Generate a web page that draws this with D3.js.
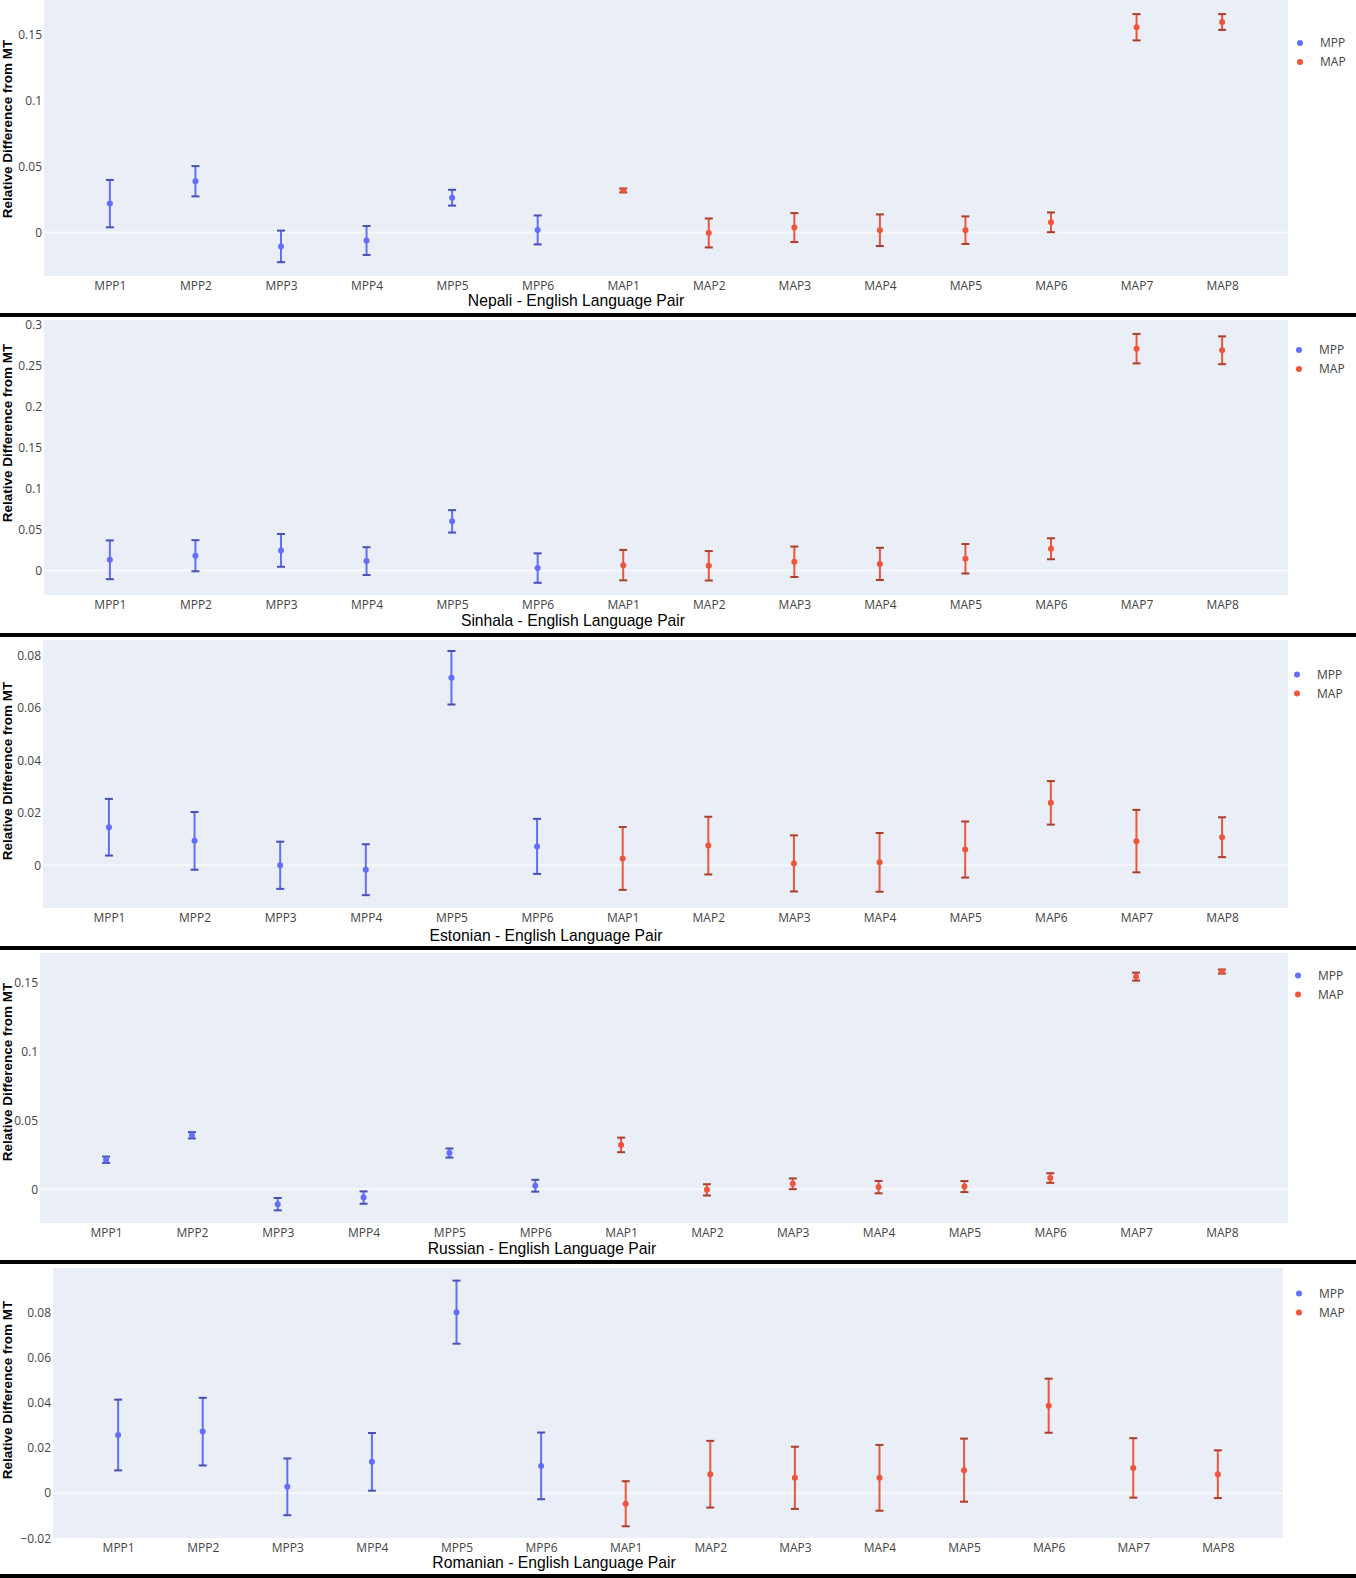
<!DOCTYPE html>
<html>
<head>
<meta charset="utf-8">
<script src="https://cdn.jsdelivr.net/npm/d3@7"></script>
<style>
  body { margin: 0; background: #fff; }
  .tick text { font-family: "Open Sans", sans-serif; font-size: 12px; fill: #444; }
</style>
</head>
<body>
<svg id="board" width="1356" height="1578"></svg>
<script>
const categories = ["MPP1", "MPP2", "MPP3", "MPP4", "MPP5", "MPP6",
    "MAP1", "MAP2", "MAP3", "MAP4", "MAP5", "MAP6", "MAP7", "MAP8"];
const seriesNames = ["MPP", "MAP"];

const nepaliValues = [0.022, 0.039, -0.0105, -0.006, 0.0265, 0.002, 0.032, -0.0003, 0.0038, 0.0018, 0.0018, 0.0078, 0.156, 0.16];
const nepaliErrors = [0.018, 0.0115, 0.012, 0.011, 0.006, 0.011, 0.0015, 0.011, 0.011, 0.012, 0.0105, 0.0075, 0.010, 0.006];

const sinhalaValues = [0.013, 0.018, 0.0245, 0.0114, 0.060, 0.0029, 0.0065, 0.0057, 0.0106, 0.008, 0.0143, 0.0265, 0.271, 0.269];
const sinhalaErrors = [0.0237, 0.019, 0.02, 0.017, 0.0137, 0.018, 0.0186, 0.018, 0.0186, 0.0197, 0.018, 0.0128, 0.018, 0.017];

const estonianValues = [0.0145, 0.0093, 0.0, -0.0017, 0.0715, 0.0072, 0.0026, 0.0075, 0.0007, 0.0011, 0.006, 0.0238, 0.0092, 0.0107];
const estonianErrors = [0.0108, 0.011, 0.009, 0.0097, 0.0102, 0.0105, 0.012, 0.011, 0.0107, 0.0112, 0.0107, 0.0083, 0.0119, 0.0076];

const russianValues = [0.0215, 0.0393, -0.0108, -0.006, 0.0264, 0.0026, 0.0323, -0.0004, 0.004, 0.0016, 0.002, 0.0082, 0.1547, 0.1584];
const russianErrors = [0.0023, 0.0023, 0.0045, 0.0045, 0.0033, 0.0043, 0.0053, 0.0041, 0.0039, 0.0045, 0.004, 0.0035, 0.0029, 0.0015];

const romanianValues = [0.0258, 0.0273, 0.0028, 0.0139, 0.0803, 0.0121, -0.0047, 0.0084, 0.0068, 0.0068, 0.0102, 0.0388, 0.0112, 0.0084];
const romanianErrors = [0.0157, 0.015, 0.0126, 0.0128, 0.014, 0.0148, 0.01, 0.0148, 0.0138, 0.0146, 0.014, 0.012, 0.0132, 0.0106];

const nepaliTicks = [0, 0.05, 0.1, 0.15];
const sinhalaTicks = [0, 0.05, 0.1, 0.15, 0.2, 0.25, 0.3];
const estonianTicks = [0, 0.02, 0.04, 0.06, 0.08];
const russianTicks = [0, 0.05, 0.1, 0.15];
const romanianTicks = [-0.02, 0, 0.02, 0.04, 0.06, 0.08];

const titles = ["Nepali - English Language Pair", "Sinhala - English Language Pair",
    "Estonian - English Language Pair", "Russian - English Language Pair",
    "Romanian - English Language Pair"];

const seriesColour = { MPP: "#636efa", MAP: "#EF553B" };

// each panel was a separate plotly figure, so positions differ a bit
const panels = [
    { values: nepaliValues, errors: nepaliErrors, ticks: nepaliTicks, dom: [-0.033, 0.1767],
      left: 44, right: 1288, top: 0, bottom: 276, tx: 576, ty: 301, yt: 129, lx: 1300, ly: 43, sep: 313 },
    { values: sinhalaValues, errors: sinhalaErrors, ticks: sinhalaTicks, dom: [-0.030, 0.306],
      left: 44, right: 1288, top: 320, bottom: 595, tx: 573, ty: 621, yt: 433, lx: 1299, ly: 350, sep: 633 },
    { values: estonianValues, errors: estonianErrors, ticks: estonianTicks, dom: [-0.0163, 0.0859],
      left: 43, right: 1288, top: 640, bottom: 908, tx: 546, ty: 936, yt: 771, lx: 1297, ly: 674.5, sep: 946 },
    { values: russianValues, errors: russianErrors, ticks: russianTicks, dom: [-0.0245, 0.1719],
      left: 40, right: 1288, top: 953, bottom: 1223, tx: 542, ty: 1249, yt: 1072, lx: 1298, ly: 975.5, sep: 1260 },
    { values: romanianValues, errors: romanianErrors, ticks: romanianTicks, dom: [-0.0199, 0.0999],
      left: 53, right: 1283, top: 1268, bottom: 1538, tx: 554, ty: 1563, yt: 1390, lx: 1299, ly: 1293.5, sep: 1574 }
];

function tickLabel(v) {
    var s = d3.format("~g")(Math.abs(v));
    return v < 0 ? "\u2212" + s : s;
}

const svg = d3.select("#board");

panels.forEach(function (p, i) {
    const g = svg.append("g");

    const x = d3.scalePoint()
        .domain(categories)
        .range([p.left, p.right])
        .padding(0.77);

    const y = d3.scaleLinear()
        .domain(p.dom)
        .range([p.bottom, p.top]);

    g.append("rect")
        .attr("x", p.left).attr("y", p.top)
        .attr("width", p.right - p.left).attr("height", p.bottom - p.top)
        .attr("fill", "#e9eef7");

    // zero line
    g.append("line")
        .attr("x1", p.left).attr("x2", p.right)
        .attr("y1", y(0)).attr("y2", y(0))
        .attr("stroke", "#f7f9fc").attr("stroke-width", 2);

    const yAxis = g.append("g")
        .attr("transform", "translate(" + (p.left - 2) + ",0)")
        .call(d3.axisLeft(y).tickValues(p.ticks).tickFormat(tickLabel).tickSize(0).tickPadding(0));
    yAxis.select(".domain").remove();

    const xAxis = g.append("g")
        .attr("transform", "translate(0," + p.bottom + ")")
        .call(d3.axisBottom(x).tickSize(0).tickPadding(5));
    xAxis.select(".domain").remove();

    const rows = categories.map(function (c, k) {
        return { cat: c, v: p.values[k], e: p.errors[k], s: c.slice(0, 3) };
    });

    const pts = g.selectAll("g.pt").data(rows).enter().append("g").attr("class", "pt");

    pts.append("line")
        .attr("x1", d => x(d.cat)).attr("x2", d => x(d.cat))
        .attr("y1", d => y(d.v + d.e)).attr("y2", d => y(d.v - d.e))
        .attr("stroke", d => seriesColour[d.s]).attr("stroke-width", 2);

    [1, -1].forEach(function (sign) {
        pts.append("line")
            .attr("x1", d => x(d.cat) - 4).attr("x2", d => x(d.cat) + 4)
            .attr("y1", d => y(d.v + sign * d.e)).attr("y2", d => y(d.v + sign * d.e))
            .attr("stroke", d => d3.color(seriesColour[d.s]).darker(0.9))
            .attr("stroke-width", 2);
    });

    pts.append("circle")
        .attr("cx", d => x(d.cat)).attr("cy", d => y(d.v))
        .attr("r", 3)
        .attr("fill", d => seriesColour[d.s]);

    // legend
    seriesNames.forEach(function (s, k) {
        g.append("circle")
            .attr("cx", p.lx).attr("cy", p.ly + k * 19)
            .attr("r", 3).attr("fill", seriesColour[s]);
        g.append("text")
            .attr("x", p.lx + 20).attr("y", p.ly + k * 19)
            .attr("dy", "0.35em")
            .style("font-family", "Open Sans, sans-serif").style("font-size", "12px")
            .attr("fill", "#444")
            .text(s);
    });

    g.append("text")
        .attr("transform", "translate(12," + p.yt + ") rotate(-90)")
        .attr("text-anchor", "middle")
        .style("font-family", "Liberation Sans, Arial, sans-serif")
        .style("font-size", "13.5px").style("font-weight", "bold")
        .attr("fill", "#000")
        .text("Relative Difference from MT");

    g.append("text")
        .attr("x", p.tx).attr("y", p.ty)
        .attr("dy", "0.35em")
        .attr("text-anchor", "middle")
        .style("font-family", "Liberation Sans, Arial, sans-serif")
        .style("font-size", "15.7px")
        .attr("fill", "#000")
        .text(titles[i]);

    // black separator under each figure
    svg.append("rect")
        .attr("x", 0).attr("y", p.sep)
        .attr("width", 1356).attr("height", 4)
        .attr("fill", "#000");
});
</script>
</body>
</html>
